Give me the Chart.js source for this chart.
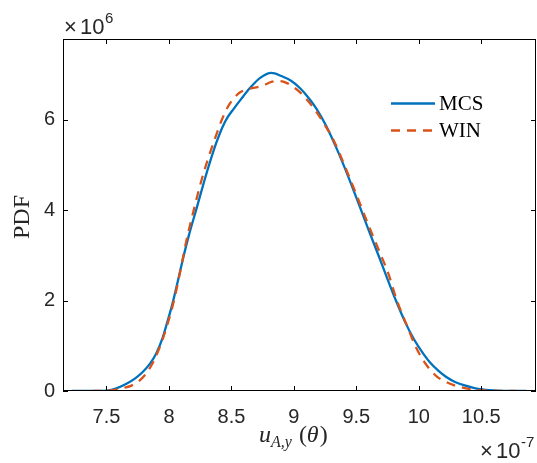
<!DOCTYPE html>
<html>
<head>
<meta charset="utf-8">
<script src="https://cdn.jsdelivr.net/npm/chart.js@4.4.1/dist/chart.umd.min.js"></script>
<style>
  html, body { margin: 0; padding: 0; background: #fff; }
  #wrap { width: 537px; height: 463px; }
</style>
</head>
<body>
<div id="wrap"><canvas id="pdfChart" width="537" height="463"></canvas></div>
<script>
// values in units of 1e-7 (x) and 1e6 (y), as printed on the axes
const mcsX = [7.22, 7.40, 7.50, 7.58, 7.66, 7.73, 7.79, 7.85, 7.90, 7.95, 7.98, 8.03, 8.07, 8.11, 8.16, 8.22, 8.28, 8.33, 8.38, 8.43, 8.47, 8.52, 8.58, 8.65, 8.73, 8.82, 8.90, 8.98, 9.05, 9.12, 9.18, 9.26, 9.34, 9.42, 9.50, 9.60, 9.69, 9.76, 9.82, 9.89, 9.96, 10.03, 10.09, 10.16, 10.22, 10.29, 10.36, 10.49, 10.62, 10.75, 10.86];
const mcsY = [0, 0, 0.01, 0.06, 0.16, 0.28, 0.42, 0.61, 0.84, 1.18, 1.46, 1.95, 2.42, 2.90, 3.45, 4.03, 4.62, 5.08, 5.50, 5.85, 6.06, 6.25, 6.47, 6.71, 6.93, 7.04, 6.97, 6.86, 6.70, 6.48, 6.25, 5.86, 5.38, 4.85, 4.28, 3.55, 2.91, 2.40, 1.98, 1.53, 1.15, 0.85, 0.63, 0.44, 0.31, 0.20, 0.13, 0.04, 0.01, 0, 0];

const winX = [7.39, 7.50, 7.58, 7.64, 7.70, 7.76, 7.81, 7.85, 7.89, 7.95, 8.02, 8.06, 8.10, 8.14, 8.20, 8.26, 8.32, 8.37, 8.42, 8.47, 8.52, 8.57, 8.63, 8.70, 8.76, 8.82, 8.88, 8.94, 9.00, 9.05, 9.11, 9.17, 9.24, 9.32, 9.41, 9.50, 9.60, 9.69, 9.76, 9.82, 9.90, 9.98, 10.06, 10.14, 10.21, 10.28, 10.41, 10.55, 10.68, 10.78];
const winY = [0, 0.005, 0.03, 0.07, 0.12, 0.22, 0.36, 0.52, 0.73, 1.15, 1.78, 2.24, 2.78, 3.33, 4.02, 4.66, 5.20, 5.60, 5.98, 6.28, 6.48, 6.61, 6.68, 6.72, 6.77, 6.84, 6.86, 6.82, 6.72, 6.61, 6.43, 6.22, 5.92, 5.54, 4.96, 4.35, 3.65, 3.05, 2.57, 2.04, 1.48, 0.95, 0.58, 0.33, 0.21, 0.13, 0.04, 0.01, 0, 0];

const xTicks = [7.5, 8, 8.5, 9, 9.5, 10, 10.5];
const yTicks = [0, 2, 4, 6];

const seriesNames = ['MCS', 'WIN'];
const seriesColors = ['#0072BD', '#D95319'];

const toPoints = (xs, ys) => xs.map((x, i) => ({ x: x, y: ys[i] }));

// box, inward ticks, exponents, axis titles and legend drawn in matlab style
const matlabDecor = {
    id: 'matlabDecor',
    afterDraw(chart) {
        const ctx = chart.ctx;
        const a = chart.chartArea;
        const xs = chart.scales.x;
        const ys = chart.scales.y;
        ctx.save();
        ctx.strokeStyle = '#000';
        ctx.lineWidth = 1;
        ctx.strokeRect(a.left + 0.5, a.top + 0.5, a.right - a.left - 1, a.bottom - a.top - 1);
        const tl = 5;
        ctx.beginPath();
        xTicks.forEach(v => {
            const p = Math.round(xs.getPixelForValue(v)) + 0.5;
            ctx.moveTo(p, a.bottom); ctx.lineTo(p, a.bottom - tl);
            ctx.moveTo(p, a.top); ctx.lineTo(p, a.top + tl);
        });
        yTicks.forEach(v => {
            const p = Math.round(ys.getPixelForValue(v)) + 0.5;
            ctx.moveTo(a.left, p); ctx.lineTo(a.left + tl, p);
            ctx.moveTo(a.right, p); ctx.lineTo(a.right - tl, p);
        });
        ctx.stroke();

        // exponent labels
        ctx.fillStyle = '#262626';
        ctx.textAlign = 'left';
        ctx.textBaseline = 'alphabetic';
        ctx.font = '22px "Liberation Sans", Arial, sans-serif';
        ctx.fillText('\u00d7', 64, 34);
        ctx.fillText('10', 80, 34);
        ctx.font = '15px "Liberation Sans", Arial, sans-serif';
        ctx.fillText('6', 105, 23);

        ctx.font = '22px "Liberation Sans", Arial, sans-serif';
        ctx.fillText('\u00d7', 480, 458);
        ctx.fillText('10', 496, 458);
        ctx.font = '15px "Liberation Sans", Arial, sans-serif';
        ctx.fillText('-7', 521, 447);

        // x title: u_{A,y} (theta)
        ctx.fillStyle = '#262626';
        let x = 259;
        const base = 442;
        ctx.font = 'italic 24px "Liberation Serif", "Times New Roman", serif';
        ctx.fillText('u', x, base);
        x += ctx.measureText('u').width;
        ctx.font = 'italic 16px "Liberation Serif", "Times New Roman", serif';
        ctx.fillText('A,y', x, base + 5);
        x += ctx.measureText('A,y').width + 7;
        ctx.font = '24px "Liberation Serif", "Times New Roman", serif';
        ctx.fillText('(', x, base);
        x += ctx.measureText('(').width;
        ctx.font = 'italic 24px "Liberation Serif", "Times New Roman", serif';
        ctx.fillText('\u03b8', x, base);
        x += ctx.measureText('\u03b8').width + 1;
        ctx.font = '24px "Liberation Serif", "Times New Roman", serif';
        ctx.fillText(')', x, base);

        // y title
        ctx.save();
        ctx.translate(29, 217);
        ctx.rotate(-Math.PI / 2);
        ctx.textAlign = 'center';
        ctx.font = '24px "Liberation Serif", "Times New Roman", serif';
        ctx.fillText('PDF', 0, 0);
        ctx.restore();

        // legend
        const rows = [103.5, 130.5];
        seriesNames.forEach((name, i) => {
            ctx.strokeStyle = seriesColors[i];
            ctx.lineWidth = 2.3;
            ctx.setLineDash(i === 1 ? [9, 7] : []);
            ctx.beginPath();
            ctx.moveTo(391, rows[i]);
            ctx.lineTo(435, rows[i]);
            ctx.stroke();
            ctx.setLineDash([]);
            ctx.fillStyle = '#000';
            ctx.textBaseline = 'middle';
            ctx.font = '21px "Liberation Serif", "Times New Roman", serif';
            ctx.fillText(name, 439, rows[i] + 1);
        });
        ctx.restore();
    }
};

new Chart(document.getElementById('pdfChart').getContext('2d'), {
    type: 'line',
    data: {
        datasets: [{
            label: seriesNames[0],
            data: toPoints(mcsX, mcsY),
            borderColor: seriesColors[0],
            borderWidth: 2.3,
            pointRadius: 0,
            cubicInterpolationMode: 'monotone',
            order: 1
        }, {
            label: seriesNames[1],
            data: toPoints(winX, winY),
            borderColor: seriesColors[1],
            borderWidth: 2.3,
            borderDash: [9, 7],
            pointRadius: 0,
            cubicInterpolationMode: 'monotone',
            order: 0
        }]
    },
    options: {
        responsive: false,
        animation: false,
        devicePixelRatio: 1,
        layout: { padding: { top: 39, right: 1, left: 0, bottom: 0 } },
        plugins: {
            legend: { display: false },
            tooltip: { enabled: false }
        },
        scales: {
            x: {
                type: 'linear',
                min: 7.152,
                max: 10.938,
                afterBuildTicks: scale => { scale.ticks = xTicks.map(v => ({ value: v })); },
                afterFit: scale => { scale.height = 72; },
                grid: { display: false, drawTicks: false },
                border: { display: false },
                ticks: {
                    padding: 14,
                    color: '#262626',
                    font: { family: '"Liberation Sans", Arial, sans-serif', size: 20 },
                    maxRotation: 0,
                    callback: v => String(v)
                }
            },
            y: {
                type: 'linear',
                min: 0,
                max: 7.79,
                afterBuildTicks: scale => { scale.ticks = yTicks.map(v => ({ value: v })); },
                afterFit: scale => { scale.width = 63; },
                grid: { display: false, drawTicks: false },
                border: { display: false },
                ticks: {
                    padding: 8,
                    color: '#262626',
                    font: { family: '"Liberation Sans", Arial, sans-serif', size: 20 },
                    callback: v => String(v)
                }
            }
        }
    },
    plugins: [matlabDecor]
});
</script>
</body>
</html>
